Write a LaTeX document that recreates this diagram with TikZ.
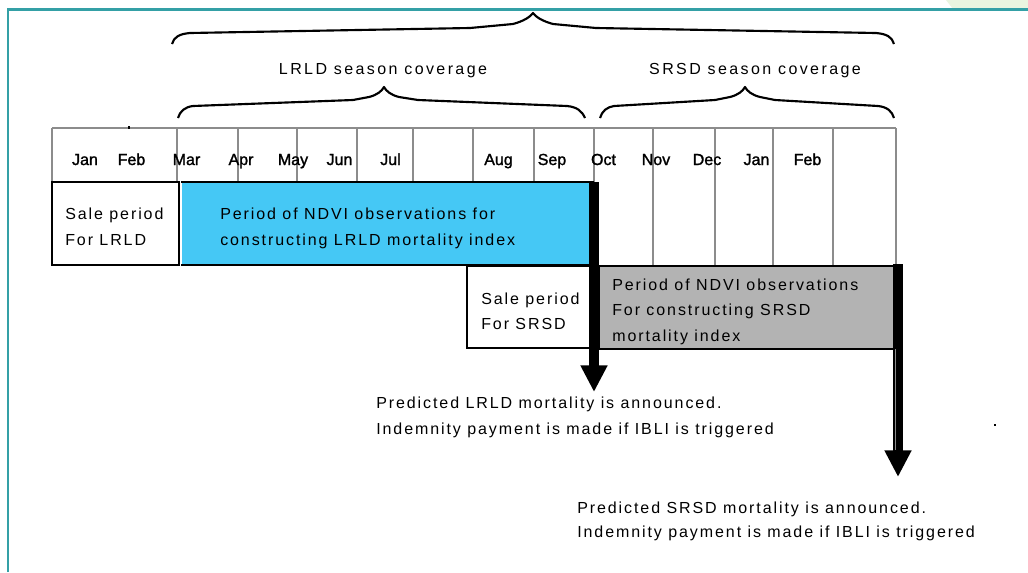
\documentclass[tikz,border=0pt]{standalone}
\usepackage{fontspec}
\setmainfont{Liberation Sans}
\newfontfamily\spaced[LetterSpace=12]{Liberation Sans}
\newfontfamily\spacedwide[LetterSpace=15]{Liberation Sans}
\newfontfamily\monthfont[FakeBold=1.5]{Liberation Sans}
\usetikzlibrary{arrows.meta}
\definecolor{framecol}{RGB}{52,160,166}
\definecolor{gridgrey}{RGB}{140,140,140}
\definecolor{skyblue}{RGB}{69,200,245}
\definecolor{boxgrey}{RGB}{179,179,179}
\definecolor{palegreen}{RGB}{234,245,224}
\tikzset{
  month/.style={anchor=base, inner sep=0pt, font=\fontsize{12}{14}\monthfont},
  txt/.style={anchor=base west, inner sep=0pt, font=\fontsize{12}{14}\spaced},
  label/.style={anchor=base, inner sep=0pt, font=\fontsize{12}{14}\spacedwide},
  gridline/.style={draw=gridgrey, line width=1.5pt},
  brace/.style={draw=black, line width=1.6pt, line join=round},
  boxnode/.style={draw=black, line width=1.5pt, inner sep=0pt},
  bigarrow/.style={line width=7.5pt, -{Triangle[width=19pt,length=20pt]}}
}
\begin{document}
\begin{tikzpicture}[x=0.75pt,y=-0.75pt]
\useasboundingbox (0,0) rectangle (1028,572);
\fill[white] (0,0) rectangle (1028,572);
% frame
\fill[palegreen] (946,0) -- (1028,0) -- (1028,9) -- (953,9) -- cycle;
\coordinate (fl) at (8,572);
\coordinate (fc) at (8,9.5);
\coordinate (fr) at (1028,9.5);
\draw[framecol, line width=1.8pt] (fl) -- (fc) -- (fr);

% braces
\draw[brace] (172,44) .. controls (174,37) and (179,34) .. (190,33) -- (470,28) -- (513,24)
  .. controls (524,21) and (530,17) .. (533,13) .. controls (536,17) and (542,21) .. (553,24)
  -- (596,28) -- (876,33) .. controls (887,34) and (892,37) .. (894,44);
\draw[brace] (178,118) .. controls (180,111) and (185,107) .. (193,106) -- (353,100) -- (369,97)
  .. controls (377,95) and (382,91) .. (384,87) .. controls (386,91) and (391,95) .. (399,97)
  -- (418,100) -- (567,106) .. controls (577,107) and (582,111) .. (585,118);
\draw[brace] (600,118) .. controls (602,111) and (607,107) .. (614,106) -- (715,100) -- (730,97)
  .. controls (738,95) and (743,91) .. (745,87) .. controls (747,91) and (752,95) .. (760,97)
  -- (775,100) -- (878,106) .. controls (887,107) and (892,111) .. (894,118);

\node[label] (lrld) at (383,74) {LRLD season coverage};
\node[label] (srsd) at (755,74) {SRSD season coverage};

% month grid
\draw[gridline] (52,128) -- (896,128);
\foreach \x in {52,177,238,297,357,413,473,534,594} {
  \draw[gridline] (\x,128) -- (\x,182);
}
\foreach \x in {653,715,773,833,896} {
  \draw[gridline] (\x,128) -- (\x,266);
}
\draw[black, line width=1pt] (129,126) -- (129,128.5);

\foreach \m/\x [count=\i] in {Jan/85,Feb/131.5,Mar/186.5,Apr/241,May/293,Jun/339.5,Jul/390.5,Aug/498.5,Sep/552,Oct/603.5,Nov/656,Dec/707,Jan/756.5,Feb/807.5} {
  \node[month] (m\i) at (\x,165) {\m};
}

% boxes
\node[boxnode, fill=white, minimum width=95.25pt, minimum height=62.25pt] (sale1) at (115.5,223.5) {};
\node[inner sep=0pt, fill=skyblue, minimum width=309pt, minimum height=62.25pt] (ndvi1) at (387.5,223.5) {};
\draw[black, line width=1.5pt] (ndvi1.north west) -- (ndvi1.north east);
\draw[black, line width=1.5pt] (ndvi1.south west) -- (ndvi1.south east);
\node[boxnode, fill=white, minimum width=95.25pt, minimum height=61.5pt] (sale2) at (530.5,307) {};
\node[boxnode, fill=boxgrey, minimum width=221.25pt, minimum height=62.25pt] (ndvi2) at (746.5,307.5) {};

% box texts
\node[txt] (t1a) at (65,219) {Sale period};
\node[txt] (t1b) at (65,245) {For LRLD};
\node[txt] (t2a) at (220,219) {Period of NDVI observations for};
\node[txt] (t2b) at (220,245) {constructing LRLD mortality index};
\node[txt] (t3a) at (481,304) {Sale period};
\node[txt] (t3b) at (481,329) {For SRSD};
\node[txt] (t4a) at (612,290) {Period of NDVI observations};
\node[txt] (t4b) at (612,315) {For constructing SRSD};
\node[txt] (t4c) at (612,341) {mortality index};

% arrows
\coordinate (a1s) at (594,182);
\coordinate (a1e) at (594,392);
\coordinate (a2s) at (898,264);
\coordinate (a2e) at (898,477);
\draw[bigarrow] (a1s) -- (a1e);
\draw[bigarrow] (a2s) -- (a2e);
\draw[gridgrey, line width=0.8pt] (895.5,349) -- (895.5,450);

% result texts
\node[txt] (r1a) at (376,408) {Predicted LRLD mortality is announced.};
\node[txt] (r1b) at (376,434) {Indemnity payment is made if IBLI is triggered};
\node[txt] (r2a) at (577,513) {Predicted SRSD mortality is announced.};
\node[txt] (r2b) at (577,537) {Indemnity payment is made if IBLI is triggered};
\draw[black, line width=0.8pt] (994,425) -- (996,425);
\end{tikzpicture}
\end{document}
